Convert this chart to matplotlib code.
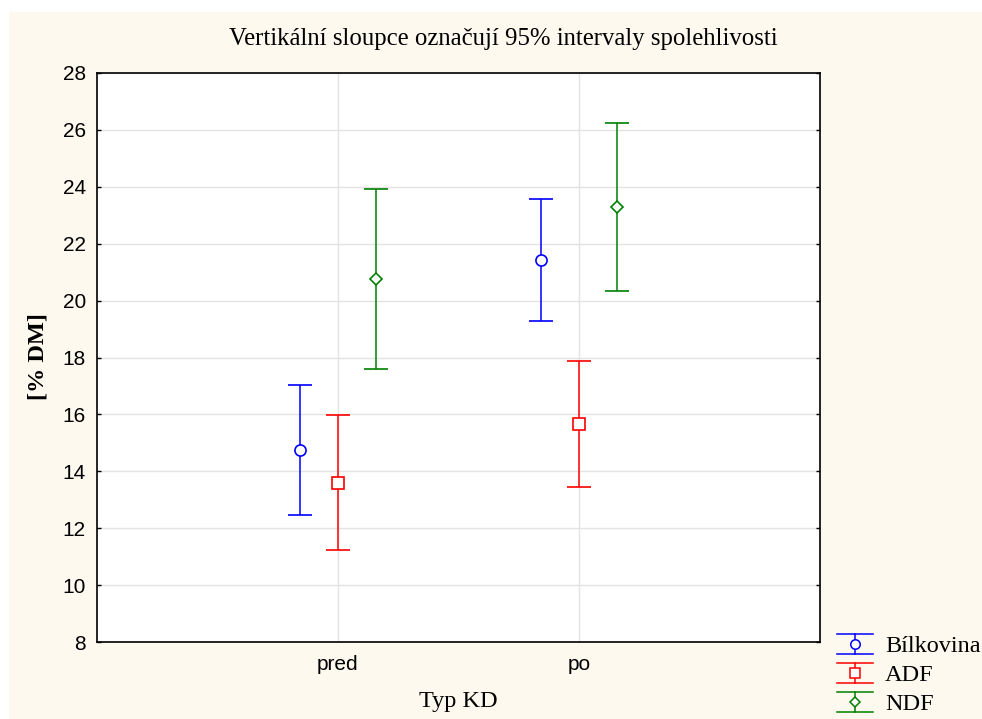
import matplotlib.pyplot as plt
from matplotlib.patches import Rectangle
from matplotlib.lines import Line2D
from matplotlib.legend_handler import HandlerBase

groups = ["pred", "po"]
series = ["Bílkovina", "ADF", "NDF"]
means = {"Bílkovina": [14.75, 21.43], "ADF": [13.6, 15.67], "NDF": [20.76, 23.3]}
lower = {"Bílkovina": [12.47, 19.27], "ADF": [11.23, 13.46], "NDF": [17.6, 20.34]}
upper = {"Bílkovina": [17.04, 23.56], "ADF": [15.98, 17.88], "NDF": [23.92, 26.25]}

colors = {"Bílkovina": "#0000ff", "ADF": "#ff0000", "NDF": "#008000"}
markers = {"Bílkovina": ("o", 8), "ADF": ("s", 8), "NDF": ("D", 6.5)}
offsets = {"Bílkovina": -0.158, "ADF": 0.0, "NDF": 0.158}

serif = "Liberation Serif"
sans = "Liberation Sans"


class CapHandler(HandlerBase):
    # legend key: vertical bar with full-width caps and a small marker in the middle
    def create_artists(self, legend, orig_handle, xdescent, ydescent, width, height, fontsize, trans):
        c = orig_handle.get_color()
        x0, x1 = -xdescent, -xdescent + width
        y0, y1 = -ydescent, -ydescent + height
        xc, yc = (x0 + x1) / 2, (y0 + y1) / 2
        lw = 1.1
        arts = [
            Line2D([x0, x1], [y1, y1], color=c, lw=lw),
            Line2D([x0, x1], [y0, y0], color=c, lw=lw),
            Line2D([xc, xc], [y0, y1], color=c, lw=lw),
            Line2D([xc], [yc], marker=orig_handle.get_marker(), ms=orig_handle.get_markersize() * 0.85,
                   mfc="white", mec=c, mew=1.1, ls="none"),
        ]
        for a in arts:
            a.set_transform(trans)
        return arts


fig = plt.figure(figsize=(9.82, 7.19), dpi=100)
fig.patches.append(Rectangle((9 / 982, 0), 1, (719 - 12) / 719, transform=fig.transFigure,
                             facecolor="#fdf9ef", edgecolor="none", zorder=-10))

ax = fig.add_axes([97 / 982, 77 / 719, 723 / 982, 569 / 719])
ax.set_facecolor("white")

handles = []
for s in series:
    xs = [i + offsets[s] for i in range(len(groups))]
    m = means[s]
    yerr = [[mm - lo for mm, lo in zip(m, lower[s])], [up - mm for mm, up in zip(m, upper[s])]]
    mk, ms = markers[s]
    h = ax.errorbar(xs, m, yerr=yerr, fmt=mk, ms=ms, mfc="white", mec=colors[s], mew=1.2,
                    color=colors[s], ecolor=colors[s], elinewidth=1.1, capsize=8.5,
                    capthick=1.1, zorder=3, label=s)
    handles.append(h.lines[0])

ax.set_xlim(-1, 2)
ax.set_ylim(8, 28)
ax.set_yticks(range(8, 29, 2))
ax.set_xticks(range(len(groups)))
ax.set_xticklabels(groups)
ax.grid(True, color="#e3e3e3", linewidth=1.0, zorder=0)
ax.set_axisbelow(True)
for sp in ax.spines.values():
    sp.set_linewidth(1.2)
ax.tick_params(axis="both", labelsize=15, labelfontfamily=sans)
ax.tick_params(axis="y", direction="in", length=3, width=1, pad=8, right=True)
ax.tick_params(axis="x", length=0, pad=9)

fig.text(503 / 982, 1 - 39 / 719, "Vertikální sloupce označují 95% intervaly spolehlivosti",
         ha="center", va="center", fontsize=17.8, family=serif)
fig.text(38 / 982, 1 - 357 / 719, "[% DM]", rotation=90, ha="center", va="center",
         fontsize=17.5, family=serif, fontweight="bold")
fig.text(458 / 982, 1 - 702 / 719, "Typ KD", ha="center", va="center", fontsize=17.5, family=serif)

fig.legend(handles=handles, labels=series, handler_map={Line2D: CapHandler()},
           loc="lower left", bbox_to_anchor=(837 / 982, 4 / 719), borderaxespad=0,
           frameon=False, prop={"family": serif, "size": 17.5},
           handlelength=1.48, handleheight=0.9, handletextpad=0.5,
           labelspacing=0.22, borderpad=0)

fig.savefig("out.png", dpi=100)
